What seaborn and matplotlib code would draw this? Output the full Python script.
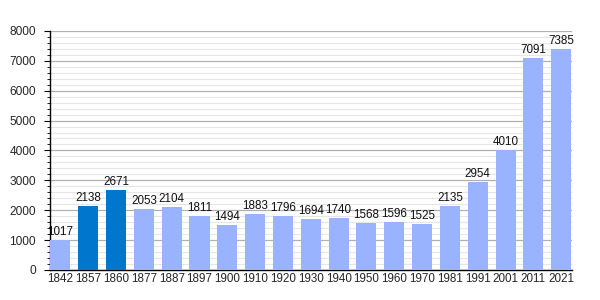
import matplotlib
matplotlib.use("Agg")
import matplotlib.pyplot as plt
import seaborn as sns
import pandas as pd
from matplotlib.ticker import MultipleLocator

years = ["1842", "1857", "1860", "1877", "1887", "1897", "1900", "1910", "1920",
         "1930", "1940", "1950", "1960", "1970", "1981", "1991", "2001", "2011", "2021"]
population = [1017, 2138, 2671, 2053, 2104, 1811, 1494, 1883, 1796,
              1694, 1740, 1568, 1596, 1525, 2135, 2954, 4010, 7091, 7385]
highlight = ["1857", "1860"]

light = "#99b3ff"
dark = "#0077cc"

df = pd.DataFrame({"year": years, "pop": population})
df["grp"] = ["dark" if y in highlight else "light" for y in years]

sns.set_theme(style="white")
plt.rcParams["font.family"] = ["Liberation Sans", "DejaVu Sans"]

fig = plt.figure(figsize=(6, 3), dpi=100)
ax = fig.add_axes([0.083, 0.1, 0.87, 0.797])

sns.barplot(data=df, x="year", y="pop", hue="grp",
            palette={"light": light, "dark": dark}, dodge=False, saturation=1,
            width=0.72, legend=False, ax=ax, zorder=3, linewidth=0, edgecolor="none")

ax.set_ylim(0, 8000)
ax.set_xlim(-0.38, 18.38)
ax.yaxis.set_major_locator(MultipleLocator(1000))
ax.yaxis.set_minor_locator(MultipleLocator(200))
ax.grid(axis="y", which="major", color="#b0b0b0", linewidth=0.9, zorder=0)
ax.grid(axis="y", which="minor", color="#e6e6e6", linewidth=0.8, zorder=0)
ax.set_axisbelow(True)

for i, v in enumerate(population):
    ax.text(i, v + 70, str(v), ha="center", va="bottom", fontsize=8.4, color="#111111")

for s in ["top", "right"]:
    ax.spines[s].set_visible(False)
for s in ["left", "bottom"]:
    ax.spines[s].set_color("black")
    ax.spines[s].set_linewidth(1.0)

ax.tick_params(axis="y", which="major", left=True, length=4, width=0.8, color="black",
               labelsize=8.6, pad=6)
ax.tick_params(axis="y", which="minor", left=True, length=2.5, width=0.6, color="black")
ax.tick_params(axis="x", bottom=False, length=0, labelsize=8.4, pad=2)
ax.set_xlabel("")
ax.set_ylabel("")

fig.savefig("out.png", dpi=100)
